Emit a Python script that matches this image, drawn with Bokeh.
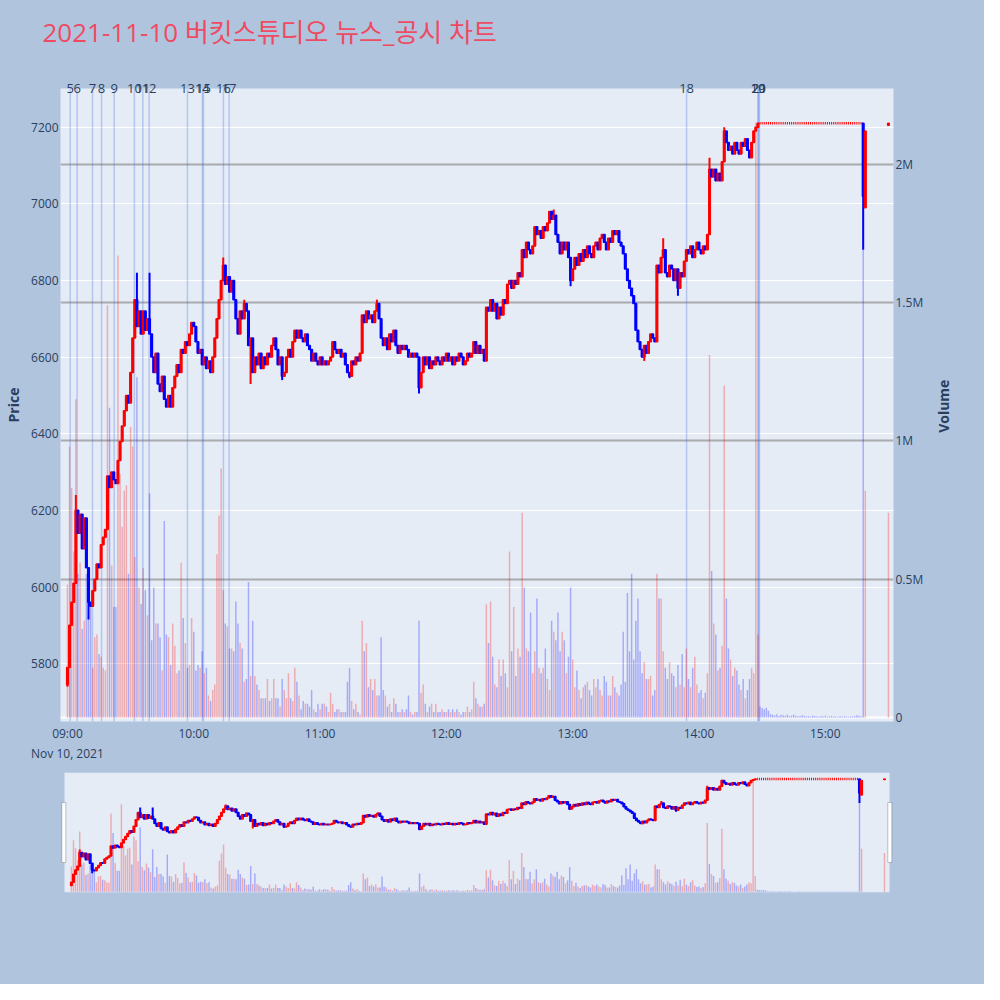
import math
from bokeh.plotting import figure
from bokeh.models import (Range1d, LinearAxis, FixedTicker, Grid, Span,
                          ColumnDataSource, BoxAnnotation)
from bokeh.layouts import column
from bokeh.embed import file_html
from bokeh.resources import INLINE

TITLE = "2021-11-10 버킷스튜디오 뉴스_공시 차트"
DATE_LABEL = "Nov 10, 2021"

# minute-by-minute closes from 09:00 (minute 0) to 14:29 (minute 329)
CLOSE_MAIN = [
    5790, 5900, 5960, 6010, 6200, 6140, 6190, 6100, 6180, 6050,
    5960, 5950, 5990, 6020, 6060, 6050, 6110, 6130, 6150, 6290,
    6260, 6300, 6280, 6270, 6330, 6380, 6420, 6460, 6500, 6480,
    6560, 6650, 6750, 6680, 6720, 6660, 6720, 6670, 6700, 6660,
    6600, 6560, 6610, 6530, 6510, 6550, 6490, 6470, 6500, 6470,
    6520, 6550, 6580, 6560, 6620, 6610, 6640, 6630, 6660, 6690,
    6680, 6640, 6610, 6620, 6580, 6600, 6570, 6590, 6560, 6600,
    6650, 6700, 6750, 6800, 6840, 6790, 6810, 6770, 6800, 6750,
    6700, 6660, 6720, 6700, 6740, 6720, 6630, 6650, 6560, 6600,
    6580, 6610, 6570, 6600, 6580, 6610, 6600, 6630, 6650, 6620,
    6580, 6600, 6550, 6560, 6600, 6620, 6600, 6640, 6670, 6650,
    6670, 6650, 6640, 6660, 6630, 6620, 6590, 6610, 6590, 6580,
    6600, 6580, 6590, 6580, 6590, 6600, 6640, 6620, 6610, 6620,
    6600, 6610, 6580, 6560, 6550, 6590, 6580, 6600, 6590, 6610,
    6710, 6690, 6720, 6700, 6710, 6690, 6720, 6740, 6700, 6650,
    6630, 6650, 6620, 6660, 6640, 6670, 6630, 6610, 6630, 6620,
    6630, 6620, 6600, 6610, 6600, 6610, 6600, 6520, 6560, 6600,
    6580, 6600, 6570, 6590, 6580, 6600, 6590, 6580, 6600, 6590,
    6610, 6590, 6600, 6580, 6600, 6590, 6610, 6600, 6580, 6590,
    6610, 6600, 6610, 6640, 6610, 6630, 6610, 6620, 6590, 6730,
    6720, 6750, 6720, 6740, 6700, 6730, 6710, 6750, 6740, 6790,
    6800, 6780, 6800, 6790, 6820, 6810, 6880, 6860, 6900, 6880,
    6870, 6890, 6940, 6920, 6930, 6910, 6940, 6930, 6950, 6980,
    6960, 6970, 6920, 6900, 6870, 6900, 6880, 6900, 6860, 6800,
    6830, 6860, 6840, 6870, 6850, 6880, 6860, 6890, 6870, 6860,
    6890, 6900, 6880, 6910, 6920, 6900, 6880, 6910, 6900, 6930,
    6920, 6930, 6900, 6890, 6870, 6830, 6800, 6780, 6760, 6740,
    6670, 6640, 6620, 6600, 6630, 6610, 6640, 6660, 6650, 6640,
    6840, 6820, 6860, 6880, 6820, 6810, 6840, 6830, 6800, 6830,
    6780, 6820, 6810, 6850, 6880, 6870, 6890, 6860, 6880, 6900,
    6880, 6870, 6890, 6880, 6920, 7090, 7070, 7090, 7060, 7080,
    7060, 7110, 7190, 7160, 7140, 7150, 7130, 7160, 7140, 7130,
    7160, 7150, 7170, 7140, 7120, 7160, 7190, 7200, 7210, 7210,
]

# volume in millions of shares, same minutes
VOLUME_MAIN = [
    0.48, 0.98, 0.83, 0.60, 1.15, 0.52, 0.56, 0.32, 0.35, 0.52,
    0.37, 0.40, 0.18, 0.29, 0.30, 0.23, 0.22, 0.18, 0.17, 1.49,
    1.12, 0.55, 0.40, 0.40, 1.67, 0.88, 0.69, 0.82, 0.84, 0.52,
    1.05, 0.98, 0.58, 1.23, 0.47, 0.41, 0.54, 0.46, 0.37, 0.81,
    0.28, 0.47, 0.34, 0.34, 0.29, 0.17, 0.71, 0.30, 0.29, 0.19,
    0.34, 0.26, 0.16, 0.17, 0.56, 0.36, 0.27, 0.18, 0.19, 0.36,
    0.31, 0.17, 0.19, 0.18, 0.24, 0.16, 0.18, 0.08, 0.06, 0.10,
    0.12, 0.59, 0.73, 0.90, 0.46, 0.34, 0.33, 0.25, 0.25, 0.24,
    0.42, 0.34, 0.27, 0.25, 0.13, 0.14, 0.49, 0.15, 0.35, 0.15,
    0.12, 0.10, 0.07, 0.07, 0.07, 0.14, 0.06, 0.07, 0.14, 0.07,
    0.07, 0.04, 0.14, 0.10, 0.07, 0.16, 0.07, 0.06, 0.18, 0.13,
    0.08, 0.03, 0.06, 0.05, 0.05, 0.04, 0.10, 0.03, 0.02, 0.05,
    0.03, 0.05, 0.05, 0.04, 0.02, 0.09, 0.05, 0.02, 0.03, 0.03,
    0.02, 0.02, 0.02, 0.13, 0.18, 0.06, 0.03, 0.05, 0.02, 0.01,
    0.35, 0.24, 0.27, 0.11, 0.14, 0.10, 0.14, 0.08, 0.08, 0.29,
    0.10, 0.08, 0.04, 0.05, 0.02, 0.07, 0.05, 0.02, 0.02, 0.03,
    0.02, 0.03, 0.08, 0.02, 0.01, 0.02, 0.02, 0.35, 0.09, 0.12,
    0.05, 0.02, 0.04, 0.05, 0.02, 0.05, 0.02, 0.02, 0.03, 0.02,
    0.02, 0.03, 0.02, 0.03, 0.02, 0.03, 0.02, 0.01, 0.02, 0.02,
    0.04, 0.02, 0.03, 0.13, 0.07, 0.05, 0.04, 0.04, 0.05, 0.41,
    0.27, 0.42, 0.22, 0.12, 0.11, 0.21, 0.15, 0.21, 0.16, 0.11,
    0.60, 0.24, 0.40, 0.15, 0.25, 0.22, 0.74, 0.47, 0.25, 0.24,
    0.38, 0.16, 0.24, 0.43, 0.18, 0.16, 0.18, 0.25, 0.14, 0.10,
    0.35, 0.31, 0.28, 0.38, 0.24, 0.31, 0.28, 0.16, 0.22, 0.47,
    0.21, 0.11, 0.17, 0.10, 0.07, 0.11, 0.12, 0.13, 0.10, 0.08,
    0.14, 0.11, 0.14, 0.10, 0.08, 0.15, 0.13, 0.08, 0.08, 0.15,
    0.11, 0.09, 0.08, 0.12, 0.31, 0.13, 0.45, 0.24, 0.52, 0.21,
    0.35, 0.43, 0.24, 0.16, 0.20, 0.14, 0.14, 0.15, 0.08, 0.10,
    0.52, 0.43, 0.43, 0.24, 0.18, 0.14, 0.20, 0.16, 0.15, 0.11,
    0.19, 0.12, 0.23, 0.11, 0.25, 0.14, 0.11, 0.18, 0.22, 0.12,
    0.09, 0.10, 0.07, 0.09, 0.16, 1.31, 0.53, 0.34, 0.30, 0.17,
    0.18, 0.26, 1.20, 0.43, 0.25, 0.21, 0.15, 0.18, 0.17, 0.12,
    0.10, 0.14, 0.07, 0.10, 0.14, 0.18, 0.16, 2.15, 0.30, 0.04,
]

# flat period 14:30 - 15:17 (single price, tiny volume)
FLAT_PRICE = 7210
FLAT_VOLUME = [
    0.035, 0.030, 0.036, 0.025, 0.012, 0.010, 0.008, 0.012,
    0.006, 0.010, 0.009, 0.007, 0.011, 0.006, 0.008, 0.010,
    0.007, 0.005, 0.006, 0.009, 0.007, 0.005, 0.006, 0.004,
    0.008, 0.006, 0.005, 0.004, 0.006, 0.005, 0.007, 0.004,
    0.005, 0.006, 0.004, 0.005, 0.003, 0.006, 0.004, 0.005,
    0.004, 0.003, 0.005, 0.004, 0.006, 0.009, 0.007, 0.005,
]

LATE_MINUTES = [378, 379, 390]
LATE_CLOSE = [7020, 7190, 7210]
LATE_VOLUME = [1.69, 0.82, 0.74]

OPEN_OVERRIDE = {0: 5745, 379: 6990, 390: 7205}
WICK_HIGH = {4: 6240, 33: 6820, 39: 6820, 74: 6860, 84: 6750, 147: 6750,
             231: 6985, 283: 6910, 305: 7120, 312: 7200}
WICK_LOW = {0: 5740, 10: 5915, 87: 6530, 102: 6540, 134: 6545, 167: 6505,
            198: 6590, 239: 6785, 274: 6590, 290: 6760, 378: 6880}

NEWS_IDS = ["5", "6", "7", "8", "9", "10", "11", "12", "13", "14", "15",
            "16", "17", "18", "19", "20", "21"]
NEWS_MINUTES = [1.3, 4.6, 11.9, 16.2, 22.2, 31.8, 35.8, 38.8, 57.0, 64.1, 64.6,
                74.1, 76.8, 294.1, 328.0, 328.3, 328.7]

TIME_TICKS = [0, 60, 120, 180, 240, 300, 360]
TIME_LABELS = ["09:00", "10:00", "11:00", "12:00", "13:00", "14:00", "15:00"]
PRICE_TICKS = [5800, 6000, 6200, 6400, 6600, 6800, 7000, 7200]
VOLUME_TICKS = [0.0, 0.5, 1.0, 1.5, 2.0]
VOLUME_LABELS = ["0", "0.5M", "1M", "1.5M", "2M"]

assert len(CLOSE_MAIN) == len(VOLUME_MAIN) == 330

# ---- styling
BG = "#B0C4DE"
PLOT_BG = "#E5ECF6"
TXT = "#2a3f5f"
FONT = "Open Sans"
INC = "#FF0000"
DEC = "#0000FF"
X_START, X_END = -3.3, 392.4
Y_START, Y_END = 5649, 7301
V_START, V_END = -0.014, 2.273
FRAME_H = 636

# ---- build OHLC
n_main = len(CLOSE_MAIN)
minutes = list(range(n_main)) + list(range(n_main, n_main + len(FLAT_VOLUME))) + LATE_MINUTES
closes = CLOSE_MAIN + [FLAT_PRICE] * len(FLAT_VOLUME) + LATE_CLOSE
volumes = VOLUME_MAIN + FLAT_VOLUME + LATE_VOLUME

body = dict(m=[], top=[], bot=[], hi=[], lo=[], cc=[])
doji = dict(m=[], c=[], cc=[])
vol = dict(m=[], v=[], vc=[])
for i, (m, c) in enumerate(zip(minutes, closes)):
    o = OPEN_OVERRIDE.get(m, closes[i - 1] if i > 0 else c)
    hi = max(o, c, WICK_HIGH.get(m, c))
    lo = min(o, c, WICK_LOW.get(m, c))
    cc = INC if c >= o else DEC
    vol["m"].append(m)
    vol["v"].append(volumes[i])
    vol["vc"].append(INC if c > o else DEC)
    if o == c and hi == lo:
        doji["m"].append(m)
        doji["c"].append(c)
        doji["cc"].append(cc)
    else:
        body["m"].append(m)
        body["top"].append(max(o, c))
        body["bot"].append(min(o, c))
        body["hi"].append(hi)
        body["lo"].append(lo)
        body["cc"].append(cc)

body_src = ColumnDataSource(body)
doji_src = ColumnDataSource(doji)
vol_src = ColumnDataSource(vol)


def draw_chart(fig):
    fig.vbar(x="m", top="v", bottom=0, width=0.7, fill_color="vc", fill_alpha=0.28,
             line_color=None, y_range_name="vol", source=vol_src)
    fig.segment(x0="m", y0="lo", x1="m", y1="hi", line_color="cc", line_width=2,
                source=body_src)
    fig.vbar(x="m", top="top", bottom="bot", width=0.75, fill_color="cc",
             line_color="cc", line_width=1.5, source=body_src)
    fig.rect(x="m", y="c", width=0.5, height=2.5, height_units="screen",
             fill_color="cc", line_color=None, source=doji_src)


def style_axis(ax, standoff=2):
    ax.axis_line_color = None
    ax.major_tick_line_color = None
    ax.minor_tick_line_color = None
    ax.major_tick_out = 0
    ax.major_tick_in = 0
    ax.minor_tick_out = 0
    ax.minor_tick_in = 0
    ax.major_label_text_font = FONT
    ax.major_label_text_font_size = "12px"
    ax.major_label_text_color = TXT
    ax.axis_label_text_font = FONT
    ax.axis_label_text_font_size = "14px"
    ax.axis_label_text_font_style = "bold"
    ax.axis_label_text_color = TXT
    ax.major_label_standoff = standoff


# ---- title strip (title sits in its own above-panel, just over a thin frame)
TITLE_H = 60
tf = figure(width=984, height=TITLE_H, x_range=Range1d(0, 1), y_range=Range1d(0, 1),
            output_backend="svg", toolbar_location=None,
            min_border_top=49, min_border_bottom=0, min_border_left=60,
            min_border_right=91, title=TITLE,
            background_fill_color=BG, border_fill_color=BG, outline_line_color=None,
            x_axis_type=None, y_axis_type=None)
tf.title.text_font = "Open Sans, Noto Sans CJK KR"
tf.title.text_font_size = "26px"
tf.title.text_font_style = "normal"
tf.title.text_color = "#EE4B63"
tf.title.align = "left"
tf.title.offset = -18
tf.title.standoff = 0

# ---- main figure
p = figure(width=984, height=764 - TITLE_H, x_range=Range1d(X_START, X_END),
           y_range=Range1d(Y_START, Y_END), output_backend="svg",
           toolbar_location=None, min_border_left=60, min_border_right=91,
           min_border_top=88 - TITLE_H, min_border_bottom=40,
           background_fill_color=PLOT_BG, border_fill_color=BG,
           outline_line_color=None, x_axis_type=None, y_axis_type=None)
p.extra_y_ranges = {"vol": Range1d(V_START, V_END)}

price_axis = LinearAxis(ticker=FixedTicker(ticks=PRICE_TICKS), axis_label="Price")
style_axis(price_axis)
price_axis.axis_label_standoff = 5
p.add_layout(price_axis, "left")

vol_axis = LinearAxis(y_range_name="vol", ticker=FixedTicker(ticks=VOLUME_TICKS),
                      major_label_overrides=dict(zip(VOLUME_TICKS, VOLUME_LABELS)))
style_axis(vol_axis)
p.add_layout(vol_axis, "right")

# "Volume" title: a bottom-to-top label on an outer right axis; rotated labels
# start at their tick, so the tick sits half a word-length below the centre
VOL_TITLE_POS = (V_START + V_END) / 2 - 28 * (V_END - V_START) / FRAME_H
vol_title_axis = LinearAxis(y_range_name="vol", ticker=FixedTicker(ticks=[VOL_TITLE_POS]),
                            major_label_overrides={VOL_TITLE_POS: "Volume"},
                            major_label_orientation=math.pi / 2)
style_axis(vol_title_axis, standoff=17)
vol_title_axis.major_label_text_font_size = "14px"
vol_title_axis.major_label_text_font_style = "bold"
p.add_layout(vol_title_axis, "right")

time_axis = LinearAxis(ticker=FixedTicker(ticks=TIME_TICKS),
                       major_label_overrides=dict(zip(TIME_TICKS, TIME_LABELS)))
style_axis(time_axis, standoff=3)
p.add_layout(time_axis, "below")

date_axis = LinearAxis(ticker=FixedTicker(ticks=TIME_TICKS[:1]),
                       major_label_overrides={TIME_TICKS[0]: DATE_LABEL})
style_axis(date_axis, standoff=0)
p.add_layout(date_axis, "below")

news_axis = LinearAxis(ticker=FixedTicker(ticks=NEWS_MINUTES),
                       major_label_overrides=dict(zip(NEWS_MINUTES, NEWS_IDS)))
style_axis(news_axis, standoff=-4)
news_axis.major_label_text_font_size = "13px"
p.add_layout(news_axis, "above")

p.add_layout(Grid(dimension=1, ticker=FixedTicker(ticks=PRICE_TICKS),
                  grid_line_color="white", grid_line_width=1))
p.add_layout(Grid(dimension=1, ticker=FixedTicker(ticks=VOLUME_TICKS[1:]),
                  y_range_name="vol", grid_line_color="#808080",
                  grid_line_alpha=0.6, grid_line_width=2))
p.add_layout(Grid(dimension=1, ticker=FixedTicker(ticks=VOLUME_TICKS[:1]),
                  y_range_name="vol", grid_line_color="white", grid_line_width=2))

for nm in NEWS_MINUTES:
    p.add_layout(Span(location=nm, dimension="height", line_color="#4169E1",
                      line_alpha=0.3, line_width=1.5, level="underlay"))

draw_chart(p)

# ---- range slider (same data scale as the main chart, frame slightly wider
# so that the handles sit just outside the slider's own background)
SLIDER_PX = 825.0
k = (X_END - X_START) / SLIDER_PX
p2 = figure(width=984, height=220, x_range=Range1d(X_START - 4 * k, X_END + 4 * k),
            y_range=Range1d(Y_START, Y_END), output_backend="svg",
            toolbar_location=None, min_border_left=60, min_border_right=91,
            min_border_top=8, min_border_bottom=92,
            background_fill_color=BG, border_fill_color=BG,
            outline_line_color=None, x_axis_type=None, y_axis_type=None)
p2.extra_y_ranges = {"vol": Range1d(V_START, V_END)}
p2.add_layout(BoxAnnotation(left=4, right=4 + SLIDER_PX, bottom=0, top=120,
                            left_units="screen", right_units="screen",
                            top_units="screen", bottom_units="screen",
                            fill_color=PLOT_BG, fill_alpha=1.0, line_color=None,
                            level="underlay"))
draw_chart(p2)
for lft in (1.3, 827.3):
    p2.add_layout(BoxAnnotation(left=lft, right=lft + 4, bottom=30, top=90,
                                left_units="screen", right_units="screen",
                                top_units="screen", bottom_units="screen",
                                fill_color="white", fill_alpha=1.0,
                                line_color="#444444", line_width=1, level="overlay"))

layout = column(tf, p, p2, styles={"background-color": BG})
open("out.html", "w").write(file_html(layout, INLINE))
